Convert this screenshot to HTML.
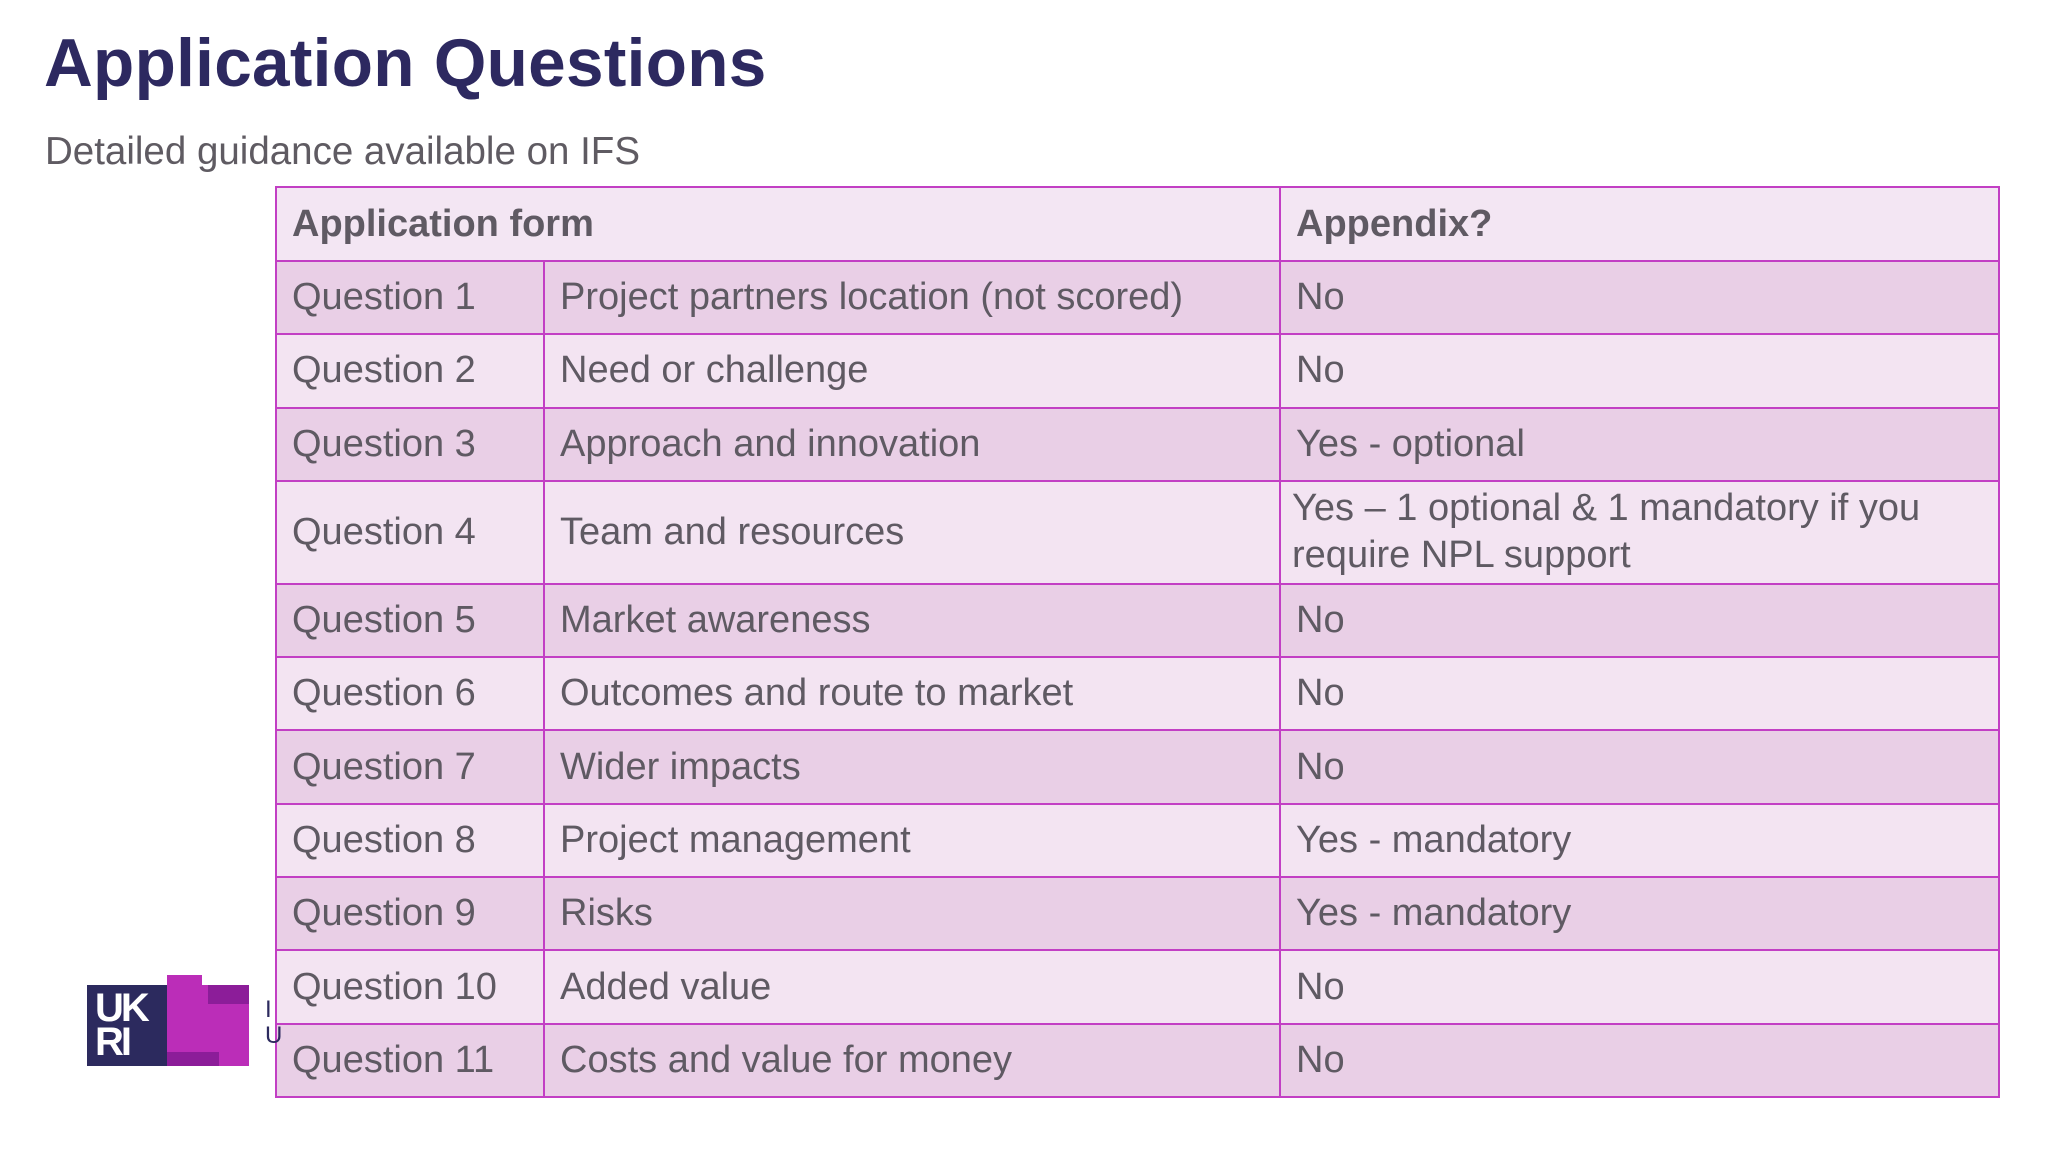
<!DOCTYPE html>
<html><head><meta charset="utf-8"><style>
body{margin:0;width:2048px;height:1152px;background:#fff;position:relative;overflow:hidden;font-family:"Liberation Sans",sans-serif}
#title{position:absolute;left:44px;top:25px;font-size:67.5px;font-weight:bold;color:#2d2960;margin:0;letter-spacing:0.3px}
#sub{position:absolute;left:45px;top:130px;font-size:38.5px;color:#5f5b62}
table{position:absolute;left:275px;top:186px;width:1725px;border-collapse:collapse;font-size:38px;color:#5f5a63;table-layout:fixed}
td{border:2px solid #c23fc4;padding:0 0 0 15px;height:73.3px;box-sizing:border-box;white-space:nowrap}
tr.h td{background:#f3e6f3;font-weight:bold;height:74px}
tr.o td{background:#e9cfe6}
tr.e td{background:#f3e4f2}
tr.t td{height:103px;line-height:47px}
</style></head><body>
<h1 id="title">Application Questions</h1>
<div id="sub">Detailed guidance available on IFS</div>
<table>
<colgroup><col style="width:268px"><col style="width:736px"><col></colgroup>
<tr class="h"><td colspan="2">Application form</td><td>Appendix?</td></tr>
<tr class="o"><td>Question 1</td><td>Project partners location (not scored)</td><td>No</td></tr>
<tr class="e"><td>Question 2</td><td>Need or challenge</td><td>No</td></tr>
<tr class="o"><td>Question 3</td><td>Approach and innovation</td><td>Yes - optional</td></tr>
<tr class="e t"><td>Question 4</td><td>Team and resources</td><td style="padding-left:11px">Yes – 1 optional &amp; 1 mandatory if you<br>require NPL support</td></tr>
<tr class="o"><td>Question 5</td><td>Market awareness</td><td>No</td></tr>
<tr class="e"><td>Question 6</td><td>Outcomes and route to market</td><td>No</td></tr>
<tr class="o"><td>Question 7</td><td>Wider impacts</td><td>No</td></tr>
<tr class="e"><td>Question 8</td><td>Project management</td><td>Yes - mandatory</td></tr>
<tr class="o"><td>Question 9</td><td>Risks</td><td>Yes - mandatory</td></tr>
<tr class="e"><td>Question 10</td><td>Added value</td><td>No</td></tr>
<tr class="o"><td>Question 11</td><td>Costs and value for money</td><td>No</td></tr>
</table>
<div style="position:absolute;left:87px;top:975px;width:200px;height:95px">
<div style="position:absolute;left:0;top:10px;width:80px;height:81px;background:#2c2a5e;color:#fff;font-weight:bold;font-size:40px;line-height:34px;padding:6px 0 0 8px;box-sizing:border-box;letter-spacing:-3px">UK<br>RI</div>
<div style="position:absolute;left:80px;top:0;width:35px;height:91px;background:#bb2db8"></div>
<div style="position:absolute;left:115px;top:10px;width:47px;height:81px;background:#bb2db8"></div>
<div style="position:absolute;left:121px;top:10px;width:41px;height:19px;background:#8c1d99"></div>
<div style="position:absolute;left:80px;top:77px;width:52px;height:14px;background:#8c1d99"></div>
<div style="position:absolute;left:178px;top:22px;width:10px;height:55px;color:#2c2a5e;font-size:24px;line-height:26px">I<br>U</div>
</div>
</body></html>
